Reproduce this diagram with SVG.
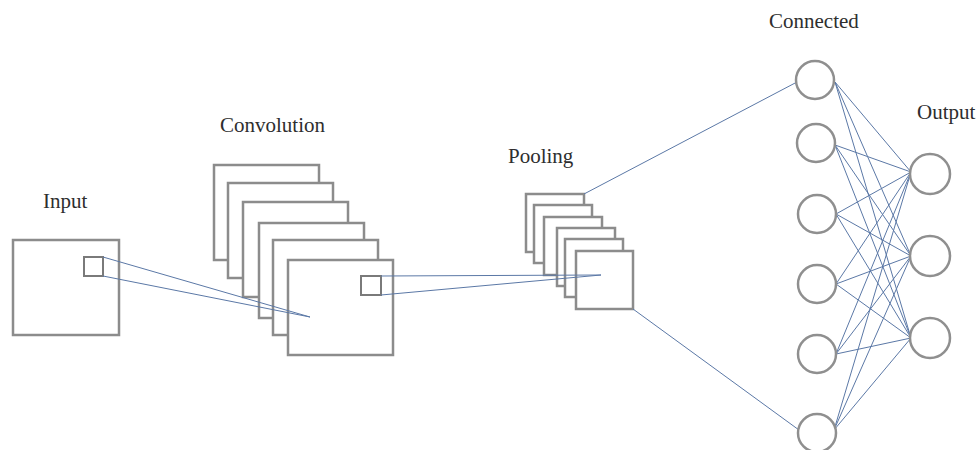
<svg xmlns="http://www.w3.org/2000/svg" width="979" height="450" viewBox="0 0 979 450">
<style>
.box{fill:#fff;stroke:#8c8c8c;stroke-width:2.5}
.sq{fill:none;stroke:#7a7a7a;stroke-width:2}
.node{fill:#fff;stroke:#8f8f8f;stroke-width:2.5}
.lbl{font-family:"Liberation Serif","Times New Roman",serif;font-size:21px;fill:#2e2e2e}
.edge{stroke:#5b78a6;stroke-width:1;fill:none}
</style>
<rect width="979" height="450" fill="#fff"/>
<g id="input">
<text class="lbl" x="43" y="208">Input</text>
<rect class="box" x="13" y="240" width="106" height="95"/>
<rect class="sq" x="84" y="257" width="19" height="19"/>
</g>
<g id="convolution">
<text class="lbl" x="220" y="132">Convolution</text>
<rect class="box" x="214" y="165" width="105" height="95"/>
<rect class="box" x="228" y="183" width="105" height="95"/>
<rect class="box" x="243" y="202" width="105" height="95"/>
<rect class="box" x="259" y="223" width="105" height="95"/>
<rect class="box" x="273" y="240" width="105" height="95"/>
<rect class="box" x="288" y="260" width="105" height="95"/>
<rect class="sq" x="361" y="276" width="20" height="19"/>
</g>
<g id="pooling">
<text class="lbl" x="508" y="163">Pooling</text>
<rect class="box" x="526" y="194" width="58" height="58"/>
<rect class="box" x="534" y="205" width="58" height="58"/>
<rect class="box" x="544" y="217" width="58" height="58"/>
<rect class="box" x="557" y="228" width="58" height="58"/>
<rect class="box" x="565" y="239" width="58" height="58"/>
<rect class="box" x="576" y="251" width="57" height="58"/>
</g>
<g id="connectors">
<line class="edge" x1="103" y1="257" x2="310" y2="317"/>
<line class="edge" x1="103" y1="276" x2="310" y2="317"/>
<line class="edge" x1="381" y1="276" x2="601" y2="275"/>
<line class="edge" x1="381" y1="295" x2="601" y2="275"/>
<line class="edge" x1="584" y1="194" x2="797" y2="82"/>
<line class="edge" x1="633" y1="309" x2="799" y2="430"/>
<g id="fc">
<line class="edge" x1="835" y1="82" x2="911" y2="172"/>
<line class="edge" x1="835" y1="82" x2="911" y2="256"/>
<line class="edge" x1="835" y1="82" x2="911" y2="338"/>
<line class="edge" x1="835" y1="145" x2="911" y2="172"/>
<line class="edge" x1="835" y1="145" x2="911" y2="256"/>
<line class="edge" x1="835" y1="145" x2="911" y2="338"/>
<line class="edge" x1="836" y1="214" x2="911" y2="172"/>
<line class="edge" x1="836" y1="214" x2="911" y2="256"/>
<line class="edge" x1="836" y1="214" x2="911" y2="338"/>
<line class="edge" x1="836" y1="284" x2="911" y2="172"/>
<line class="edge" x1="836" y1="284" x2="911" y2="256"/>
<line class="edge" x1="836" y1="284" x2="911" y2="338"/>
<line class="edge" x1="836" y1="354" x2="911" y2="172"/>
<line class="edge" x1="836" y1="354" x2="911" y2="256"/>
<line class="edge" x1="836" y1="354" x2="911" y2="338"/>
<line class="edge" x1="834" y1="430" x2="911" y2="172"/>
<line class="edge" x1="834" y1="430" x2="911" y2="256"/>
<line class="edge" x1="834" y1="430" x2="911" y2="338"/>
</g>
</g>
<g id="connected">
<text class="lbl" x="769" y="28">Connected</text>
<circle id="c1" class="node" cx="815" cy="80" r="19"/>
<circle id="c2" class="node" cx="816" cy="143" r="19"/>
<circle id="c3" class="node" cx="817" cy="214" r="19"/>
<circle id="c4" class="node" cx="817" cy="284" r="19"/>
<circle id="c5" class="node" cx="817" cy="354" r="19"/>
<circle id="c6" class="node" cx="817" cy="433" r="19"/>
</g>
<g id="output">
<text class="lbl" x="917" y="119">Output</text>
<circle id="o1" class="node" cx="930" cy="174" r="20"/>
<circle id="o2" class="node" cx="930" cy="256" r="20"/>
<circle id="o3" class="node" cx="930" cy="338" r="20"/>
</g>
</svg>
